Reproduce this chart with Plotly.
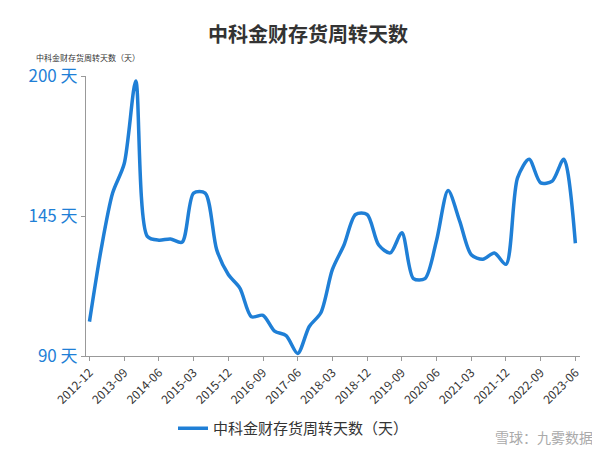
import plotly.graph_objects as go

quarters = ["2012-12","2013-03","2013-06","2013-09","2013-12","2014-03","2014-06","2014-09","2014-12",
            "2015-03","2015-06","2015-09","2015-12","2016-03","2016-06","2016-09","2016-12","2017-03",
            "2017-06","2017-09","2017-12","2018-03","2018-06","2018-09","2018-12","2019-03","2019-06",
            "2019-09","2019-12","2020-03","2020-06","2020-09","2020-12","2021-03","2021-06","2021-09",
            "2021-12","2022-03","2022-06","2022-09","2022-12","2023-03","2023-06"]
days = [103.5,131.7,154,165.5,198,137,135.5,136,134.7,154,154,131.7,122,116.7,105.4,106,99.8,98,
        91,101.6,107,124,133.6,145.6,145.6,133.6,130.5,138.4,120.4,120.4,135.4,155,143,129.8,128,
        130.5,126,160,167.3,158,158.7,167.3,134.3]
tick_labels = quarters[::3]
y_ticks = [90, 145, 200]

fig = go.Figure(go.Scatter(x=quarters, y=days, mode="lines", name="中科金财存货周转天数（天）",
                           line=dict(color="#1f7fd6", width=3.5, shape="spline", smoothing=0.8)))
font = "Noto Sans CJK SC"
fig.update_layout(
    width=600, height=449, paper_bgcolor="white", plot_bgcolor="white",
    margin=dict(l=78, r=28, t=68, b=88),
    font=dict(family=font),
    title=dict(text="<b>中科金财存货周转天数</b>", x=0.5, y=0.955, xanchor="center",
               font=dict(size=20, color="#333")),
    showlegend=True,
    legend=dict(orientation="h", x=0.42, xanchor="center", y=-0.2, yanchor="top",
                font=dict(size=15, color="#333")),
    xaxis=dict(type="category", tickvals=tick_labels, ticktext=tick_labels, tickangle=-45,
               tickfont=dict(size=12, color="#333"), showgrid=False, showline=True,
               linecolor="#999", ticks="outside", ticklen=4, tickcolor="#999", range=[-0.3, 42.4]),
    yaxis=dict(range=[90, 200], tickvals=y_ticks, ticktext=[f"{v} 天" for v in y_ticks],
               tickfont=dict(size=17, color="#1f7fd6"), showgrid=False, showline=True,
               linecolor="#999", ticks="outside", ticklen=4, tickcolor="#999", zeroline=False),
    annotations=[
        dict(text="中科金财存货周转天数（天）", xref="paper", yref="paper", x=-0.105, y=1.04,
             xanchor="left", yanchor="bottom", showarrow=False, font=dict(size=8, color="#333")),
        dict(text="雪球：九雾数据", xref="paper", yref="paper", x=1.03, y=-0.245,
             xanchor="right", yanchor="top", showarrow=False, font=dict(size=14, color="#aaa")),
    ],
)
fig.write_html("out.html")
